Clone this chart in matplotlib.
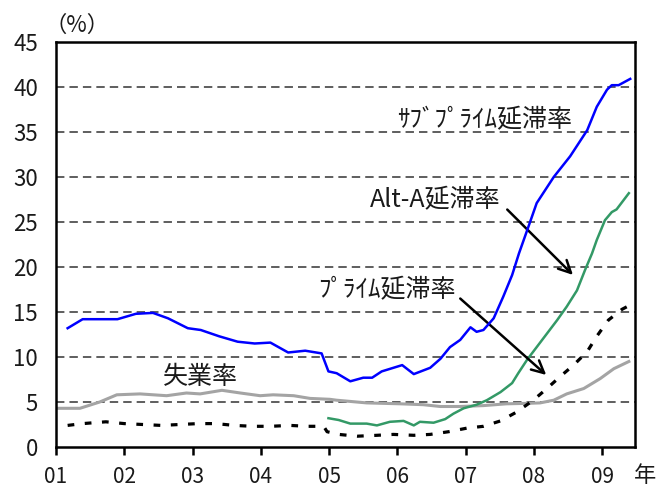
import numpy as np
import matplotlib
matplotlib.use("Agg")
import matplotlib.pyplot as plt

plt.rcParams['font.family'] = ['Noto Sans CJK JP', 'DejaVu Sans']

# delinquency / unemployment rates (%), time in decimal years
subprime_t = [2001.17, 2001.39, 2001.90, 2002.17, 2002.42, 2002.64, 2002.93, 2003.12,
              2003.39, 2003.66, 2003.91, 2004.14, 2004.40, 2004.65, 2004.89, 2004.99,
              2005.11, 2005.31, 2005.50, 2005.63, 2005.77, 2006.07, 2006.24, 2006.48,
              2006.63, 2006.77, 2006.92, 2007.07, 2007.16, 2007.26, 2007.41, 2007.55,
              2007.68, 2007.78, 2007.92, 2008.04, 2008.29, 2008.53, 2008.78, 2008.92,
              2009.07, 2009.14, 2009.24, 2009.41]
subprime_v = [13.2, 14.2, 14.2, 14.8, 14.9, 14.3, 13.2, 13.0,
              12.3, 11.7, 11.5, 11.6, 10.5, 10.7, 10.4, 8.4,
              8.2, 7.3, 7.7, 7.7, 8.4, 9.1, 8.1, 8.8,
              9.8, 11.1, 11.9, 13.3, 12.8, 13.0, 14.3, 16.7,
              19.1, 21.5, 24.5, 27.1, 30.0, 32.3, 35.2, 37.8,
              39.7, 40.2, 40.2, 40.9]

alta_t = [2004.99, 2005.14, 2005.31, 2005.55, 2005.70, 2005.89, 2006.09, 2006.24,
          2006.33, 2006.53, 2006.70, 2006.82, 2006.97, 2007.16, 2007.31, 2007.51,
          2007.68, 2007.77, 2007.90, 2008.04, 2008.19, 2008.34, 2008.48, 2008.63,
          2008.75, 2008.85, 2008.92, 2009.04, 2009.14, 2009.21, 2009.39]
alta_v = [3.2, 3.0, 2.6, 2.6, 2.4, 2.8, 2.9, 2.4,
          2.8, 2.7, 3.1, 3.7, 4.3, 4.7, 5.2, 6.1,
          7.1, 8.2, 9.7, 11.1, 12.6, 14.1, 15.6, 17.4,
          19.7, 21.5, 23.0, 25.2, 26.1, 26.4, 28.2]

unemp_t = [2001.01, 2001.35, 2001.64, 2001.89, 2002.23, 2002.62, 2002.91, 2003.11,
           2003.43, 2003.70, 2003.99, 2004.18, 2004.48, 2004.72, 2005.01, 2005.11,
           2005.55, 2006.04, 2006.38, 2006.63, 2006.92, 2007.26, 2007.60, 2007.90,
           2008.09, 2008.29, 2008.48, 2008.73, 2008.97, 2009.17, 2009.39]
unemp_v = [4.3, 4.3, 5.0, 5.8, 5.9, 5.7, 6.0, 5.9,
           6.3, 6.0, 5.7, 5.8, 5.7, 5.4, 5.3, 5.2,
           4.9, 4.8, 4.7, 4.5, 4.5, 4.6, 4.8, 4.85,
           4.9, 5.2, 5.9, 6.5, 7.6, 8.7, 9.5]

prime_t = [2001.17, 2001.39, 2001.73, 2002.00, 2002.54, 2003.08, 2003.34, 2003.61,
           2003.88, 2004.14, 2004.43, 2004.67, 2004.92, 2004.97, 2005.14, 2005.41,
           2005.70, 2005.94, 2006.24, 2006.48, 2006.75, 2007.02, 2007.26, 2007.51,
           2007.75, 2007.99, 2008.19, 2008.38, 2008.58, 2008.78, 2008.92, 2009.09,
           2009.29, 2009.39]
prime_v = [2.4, 2.6, 2.8, 2.6, 2.4, 2.6, 2.6, 2.4,
           2.3, 2.3, 2.4, 2.3, 2.3, 1.7, 1.4, 1.2,
           1.3, 1.4, 1.3, 1.4, 1.7, 2.1, 2.3, 2.9,
           3.9, 5.2, 6.5, 7.8, 9.1, 10.6, 12.3, 14.1,
           15.3, 15.7]

years = [2001, 2002, 2003, 2004, 2005, 2006, 2007, 2008, 2009]
year_labels = ["01", "02", "03", "04", "05", "06", "07", "08", "09"]
yticks = [0, 5, 10, 15, 20, 25, 30, 35, 40, 45]

txt = '#1a1a1a'

fig = plt.figure(figsize=(6.56, 4.91), dpi=100)
ax = fig.add_axes([0.0854, 0.0896, 0.968 - 0.0854, 0.9145 - 0.0896])

for y in yticks[1:-1]:
    ax.axhline(y, color='#333333', lw=1.1, linestyle=(0, (5.5, 3.3)), zorder=1)

ax.plot(unemp_t, unemp_v, color='#a4a4a4', lw=2.2, zorder=2)
ax.plot(prime_t, prime_v, color='black', lw=2.3, linestyle=(0, (2.1, 3.3)),
        dash_capstyle='butt', zorder=2)
ax.plot(alta_t, alta_v, color='#339966', lw=1.8, zorder=3)
ax.plot(subprime_t, subprime_v, color='#0000ff', lw=1.8, zorder=4)

ax.set_xlim(2001, 2009.48)
ax.set_ylim(0, 45)
ax.set_xticks(years)
ax.set_xticklabels(year_labels)
ax.set_yticks(yticks)
ax.tick_params(axis='y', length=0, pad=13, labelsize=16, labelcolor=txt)
ax.tick_params(axis='x', length=6, width=1.8, direction='out', pad=8,
               labelsize=15, labelcolor=txt)
for s in ax.spines.values():
    s.set_linewidth(1.8)
    s.set_color('black')

fs = 18
ax.text(2006.0, 36.3, "ｻﾌﾞﾌﾟﾗｲﾑ延滞率", fontsize=fs, color=txt, va='center', ha='left')
ax.text(2005.6, 27.4, "Alt-A延滞率", fontsize=fs, color=txt, va='center', ha='left')
ax.text(2004.84, 17.4, "ﾌﾟﾗｲﾑ延滞率", fontsize=fs, color=txt, va='center', ha='left')
ax.text(2002.57, 7.8, "失業率", fontsize=fs, color=txt, va='center', ha='left')

arrow = dict(arrowstyle='->', color='black', lw=1.8, mutation_scale=22)
ax.annotate("", xy=(2008.60, 18.9), xytext=(2007.58, 26.6), arrowprops=arrow)
ax.annotate("", xy=(2008.21, 7.8), xytext=(2006.89, 16.7), arrowprops=arrow)

fig.text(0.117, 0.949, "（%）", fontsize=16, color=txt, ha='center', va='center')
fig.text(0.983, 0.032, "年", fontsize=16, color=txt, ha='center', va='center')

fig.savefig("out.png", dpi=100)
